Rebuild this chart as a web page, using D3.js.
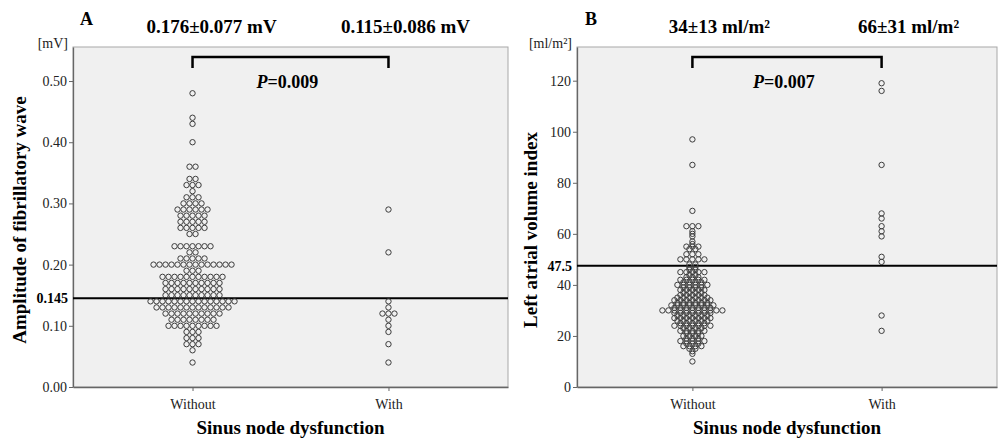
<!DOCTYPE html>
<html><head><meta charset="utf-8">
<script src="https://cdn.jsdelivr.net/npm/d3@7"></script>
<style>
body{margin:0;background:#fff;}
svg{display:block;font-family:"Liberation Serif","Times New Roman",serif;}
</style></head>
<body><svg id="c" width="1000" height="448"></svg>
<script>
const categories = ["Without", "With"];
// Panel A: amplitude of fibrillatory wave [mV] — [value, number of patients]
const ampWithout = [[0.04,1],[0.06,1],[0.07,3],[0.08,3],[0.09,3],[0.10,9],[0.11,8],[0.12,10],[0.13,13],[0.14,15],
  [0.15,10],[0.16,10],[0.17,10],[0.18,11],[0.19,3],[0.20,14],[0.21,5],[0.22,2],[0.23,7],[0.25,2],[0.26,5],[0.27,5],
  [0.28,5],[0.29,6],[0.30,4],[0.31,3],[0.32,1],[0.33,3],[0.34,2],[0.36,2],[0.40,1],[0.43,1],[0.44,1],[0.48,1]];
const ampWith = [[0.04,1],[0.07,1],[0.09,1],[0.10,1],[0.11,1],[0.12,3],[0.13,1],[0.14,1],[0.22,1],[0.29,1]];
const ampTicks = [0, 0.1, 0.2, 0.3, 0.4, 0.5];
const ampCutoff = 0.145;
const ampStats = ["0.176\u00B10.077 mV", "0.115\u00B10.086 mV"];
const ampP = "0.009";
// Panel B: left atrial volume index [ml/m2]
const lavWithout = [[10,1],[13,1],[14,1],[15,2],[16,4],[17,3],[18,5],[19,3],[20,4],[21,3],[22,5],[23,4],[24,7],[25,5],
  [26,6],[27,7],[28,6],[29,7],[30,11],[31,7],[32,8],[33,6],[34,7],[35,6],[36,5],[37,4],[38,5],[39,4],[40,6],[41,4],
  [42,5],[43,3],[44,2],[45,5],[46,2],[47,2],[48,2],[50,5],[52,3],[54,2],[55,3],[56,1],[57,1],[59,1],[60,1],[61,1],
  [63,3],[69,1],[87,1],[97,1]];
const lavWith = [[22,1],[28,1],[49,1],[51,1],[59,1],[61,1],[63,1],[66,1],[68,1],[87,1],[116,1],[119,1]];
const lavTicks = [0, 20, 40, 60, 80, 100, 120];
const lavCutoff = 47.5;
const lavStats = ["34\u00B113 ml/m\u00B2", "66\u00B131 ml/m\u00B2"];
const lavP = "0.007";

const svg = d3.select("#c");

function panel(o) {
  const g = svg.append("g");
  const x = d3.scalePoint().domain(categories).range([o.x0, o.x1]).padding(0.61);
  const y = d3.scaleLinear().domain([0, o.ymax]).range([387, 47]);
  g.append("rect").attr("x", o.x0).attr("y", 47).attr("width", o.x1 - o.x0).attr("height", 340)
    .attr("fill", "#f0f0f0").attr("stroke", "#a8a8a8").attr("stroke-width", 1);
  const ya = g.append("g").attr("transform", `translate(${o.x0},0)`)
    .call(d3.axisLeft(y).tickValues(o.ticks).tickFormat(o.fmt).tickSize(4).tickPadding(2).tickSizeOuter(0));
  ya.select(".domain").attr("stroke", "#666").attr("stroke-width", 1.3);
  ya.selectAll(".tick line").attr("stroke", "#666");
  ya.selectAll("text").attr("font-size", 14).attr("fill", "#222").attr("font-family", "Liberation Serif");
  const xa = g.append("g").attr("transform", "translate(0,387)")
    .call(d3.axisBottom(x).tickSize(4).tickPadding(8).tickSizeOuter(0));
  xa.select(".domain").attr("stroke", "#666").attr("stroke-width", 1.3);
  xa.selectAll(".tick line").attr("stroke", "#666");
  xa.selectAll("text").attr("font-size", 14).attr("fill", "#222").attr("font-family", "Liberation Serif");
  g.append("line").attr("x1", o.x0).attr("x2", o.x1).attr("y1", y(o.cutoff)).attr("y2", y(o.cutoff))
    .attr("stroke", "#000").attr("stroke-width", 2.2);
  g.append("text").attr("x", o.x0 - 5).attr("y", y(o.cutoff)).attr("dy", "0.35em").attr("text-anchor", "end")
    .attr("font-size", 14).attr("font-weight", "bold").text(o.cutoffLabel);
  const step = 6;
  [[o.without, categories[0]], [o.with, categories[1]]].forEach(([rows, cat]) => {
    rows.forEach(([v, n]) => {
      for (let i = 0; i < n; i++) {
        g.append("circle").attr("cx", x(cat) + (i - (n - 1) / 2) * step).attr("cy", y(v)).attr("r", 2.7)
          .attr("fill", "none").attr("stroke", "#3c3c3c").attr("stroke-width", 1);
      }
    });
  });
  const xa0 = x(categories[0]), xa1 = x(categories[1]);
  g.append("path").attr("d", `M${xa0},68V57H${xa1}V68`).attr("fill", "none")
    .attr("stroke", "#000").attr("stroke-width", 2.5);
  const pt = g.append("text").attr("x", (xa0 + xa1) / 2 - 3).attr("y", 88).attr("text-anchor", "middle")
    .attr("font-size", 18).attr("font-weight", "bold");
  pt.append("tspan").attr("font-style", "italic").text("P");
  pt.append("tspan").text("=" + o.p);
  o.stats.forEach((s, i) => {
    g.append("text").attr("x", x(categories[i]) + o.hdx[i]).attr("y", 33).attr("text-anchor", "middle")
      .attr("font-size", 19).attr("font-weight", "bold").text(s);
  });
  g.append("text").attr("x", o.letterX).attr("y", 25).attr("font-size", 18).attr("font-weight", "bold").text(o.letter);
  g.append("text").attr("x", o.x0 - 5).attr("y", 48).attr("text-anchor", "end").attr("font-size", 14)
    .attr("fill", "#222").text(o.unit);
  g.append("text").attr("transform", `translate(${o.ytX},${o.ytY}) rotate(-90)`).attr("text-anchor", "middle")
    .attr("font-size", 19).attr("font-weight", "bold").text(o.ytitle);
  g.append("text").attr("x", (o.x0 + o.x1) / 2).attr("y", 434).attr("text-anchor", "middle")
    .attr("font-size", 19).attr("font-weight", "bold").text("Sinus node dysfunction");
}

panel({x0: 73, x1: 508, ymax: 0.5556, ticks: ampTicks, fmt: d3.format(".2f"), cutoff: ampCutoff, cutoffLabel: "0.145",
  without: ampWithout, with: ampWith, p: ampP, stats: ampStats, hdx: [19, 17], letter: "A", letterX: 80,
  unit: "[mV]", ytitle: "Amplitude of fibrillatory wave", ytX: 26, ytY: 220});
panel({x0: 577, x1: 997, ymax: 133.2, ticks: lavTicks, fmt: d3.format("d"), cutoff: lavCutoff, cutoffLabel: "47.5",
  without: lavWithout, with: lavWith, p: lavP, stats: lavStats, hdx: [27, 27], letter: "B", letterX: 585,
  unit: "[ml/m\u00B2]", ytitle: "Left atrial volume index", ytX: 537, ytY: 230});
</script></body></html>
